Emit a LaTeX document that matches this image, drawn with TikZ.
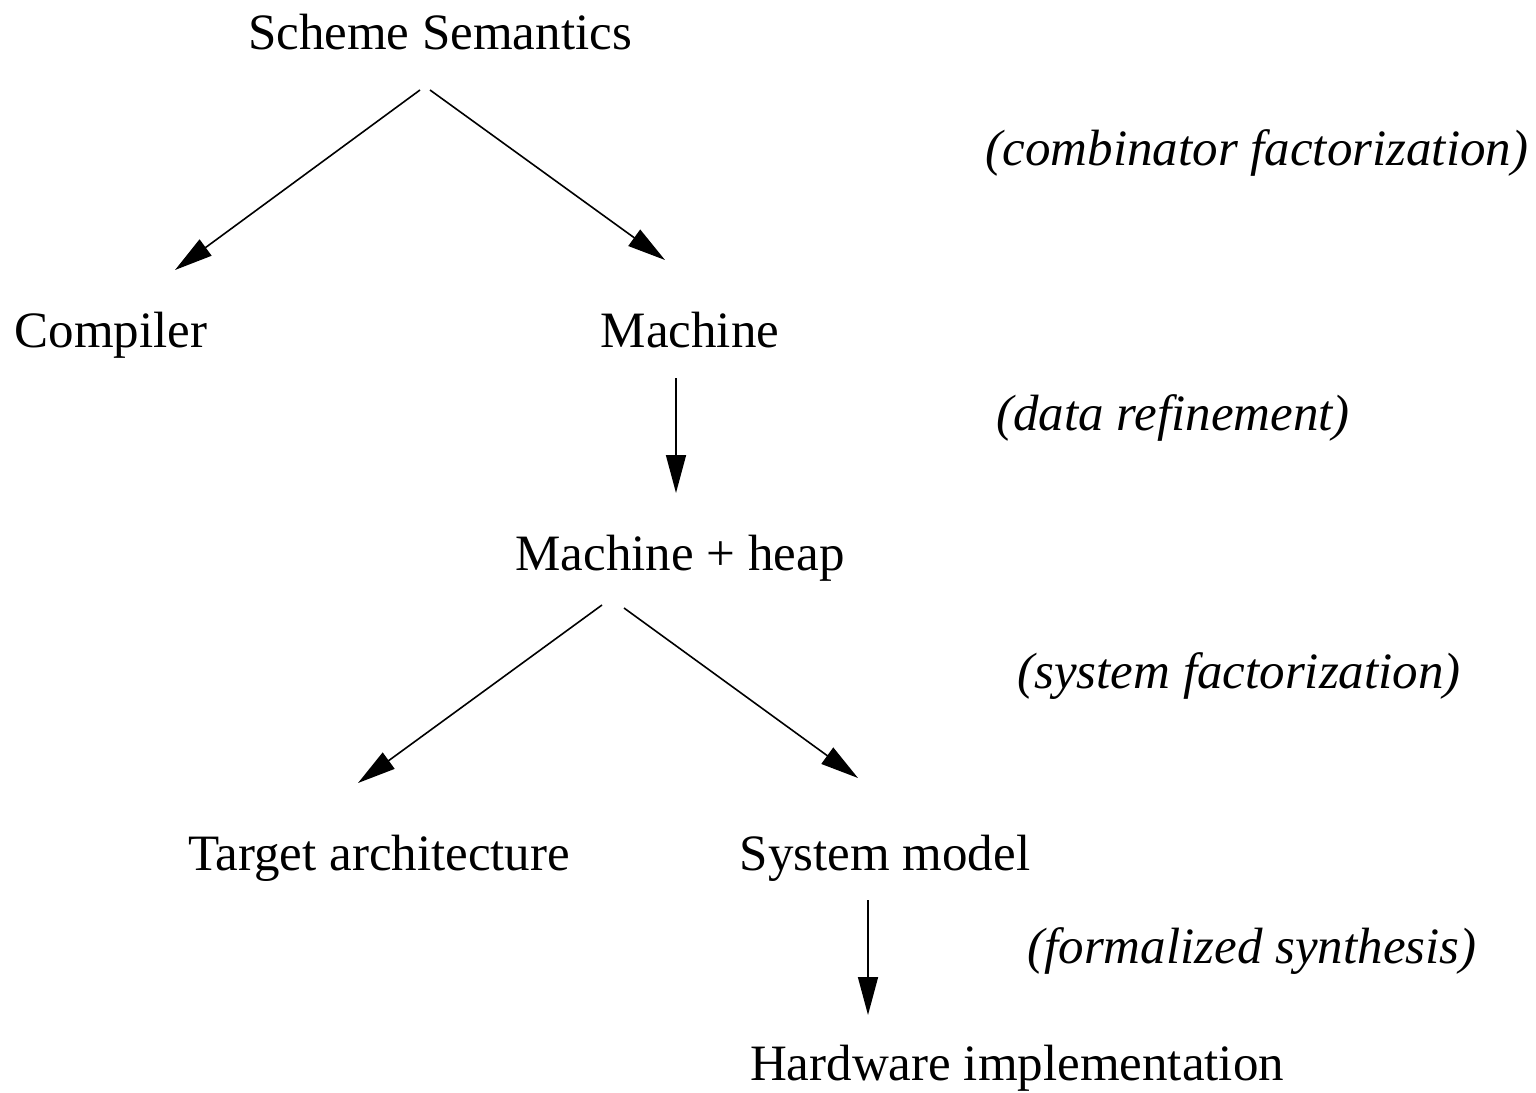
\documentclass[tikz,border=0pt]{standalone}
\usepackage{fontspec}
\setmainfont{Liberation Serif}
\usetikzlibrary{arrows.meta}
\begin{document}
\begin{tikzpicture}[x=1pt,y=-1pt,
  lbl/.style={anchor=base, inner sep=0pt, font=\fontsize{51}{60}\selectfont},
  note/.style={anchor=base, inner sep=0pt, font=\fontsize{51}{60}\selectfont\itshape},
  arr/.style={-{Triangle[length=38pt,width=20pt]}, line width=1.6pt}]
\useasboundingbox (0,0) rectangle (1536,1092);
\node[lbl] (ss) at (440,49) {Scheme Semantics};
\node[lbl] (comp) at (111,347) {Compiler};
\node[lbl] (mach) at (690,347) {Machine};
\node[lbl] (mh) at (680,570) {Machine + heap};
\node[lbl] (ta) at (379,870) {Target architecture};
\node[lbl] (sm) at (885,870) {System model};
\node[lbl] (hw) at (1017,1080) {Hardware implementation};
\node[note] (n1) at (1257,165) {(combinator factorization)};
\node[note] (n2) at (1173,430) {(data refinement)};
\node[note] (n3) at (1239,688) {(system factorization)};
\node[note] (n4) at (1252,963) {(formalized synthesis)};
\draw[arr] ([xshift=-20pt,yshift=-41pt]ss.base) -- ([xshift=64pt,yshift=77pt]comp.base);
\draw[arr] ([xshift=-10pt,yshift=-41pt]ss.base) -- ([xshift=-25pt,yshift=87pt]mach.base);
\draw[arr] ([xshift=-14pt,yshift=-31pt]mach.base) -- ([xshift=-4pt,yshift=77pt]mh.base);
\draw[arr] ([xshift=-78pt,yshift=-35pt]mh.base) -- ([xshift=-21pt,yshift=87pt]ta.base);
\draw[arr] ([xshift=-56pt,yshift=-38pt]mh.base) -- ([xshift=-27pt,yshift=92pt]sm.base);
\draw[arr] ([xshift=-17pt,yshift=-30pt]sm.base) -- ([xshift=-149pt,yshift=65pt]hw.base);
\end{tikzpicture}
\end{document}
